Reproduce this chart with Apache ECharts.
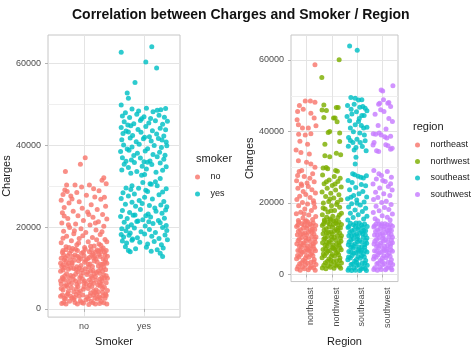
<!DOCTYPE html>
<html>
<head>
<meta charset="utf-8">
<title>Charges by smoker / region</title>
<script src="https://cdn.jsdelivr.net/npm/echarts@6/dist/echarts.min.js"></script>
<style>
  html, body { margin: 0; background: #fff; }
  #chart { width: 476px; height: 352px; }
</style>
</head>
<body>
<div id="chart"></div>
<script>
// --- categories & ticks ---
const smokerCats = ['no', 'yes'];
const regionCats = ['northeast', 'northwest', 'southeast', 'southwest'];
const chargeTicks = [0, 20000, 40000, 60000];
const chargeMinorTicks = [10000, 30000, 50000];

// --- points: [jitter in % of a category step, charges in thousands] ---
const smokerNo = [
  [2,37.0],[-6,35.4],[-31,33.6],[33,32.1],[30,31.5],[-29,30.3],[-15,30.3],[9,30.3],[37,30.6],
  [-32,29.1],[-28,28.7],[-12,28.5],[25,28.9],[-35,28.0],[-22,27.6],[4,27.8],[18,27.4],[-38,26.6],[-8,26.2],[28,26.8],
  [-25,25.9],[12,25.5],[36,25.1],[-33,24.8],[-3,24.6],[22,24.3],[-18,23.9],[-36,23.5],[6,23.7],[31,23.1],
  [-10,22.8],[15,22.4],[-27,22.1],[38,22.0],[-1,21.6],[24,21.3],[-37,21.0],[-14,20.8],[10,20.5],[33,20.2],
  [-24,19.9],[-5,19.6],[20,19.3],[-34,19.0],[3,18.7],[-17,18.4],[27,18.2],[-29,17.8],[14,17.5],[-8,17.2],
  [35,17.0],[-21,16.7],[7,16.4],[-38,16.2],[25,15.9],[-12,15.7],[17,15.4],[-30,15.2],[1,15.0],[32,14.9],[-19,14.8],
  [-26,20.6],[19,21.0],[-16,19.1],[30,18.9],[-2,17.9],[-35,17.3],[21,16.9],[-9,16.1],[38,16.4],[11,15.3],
  [-25,15.0],[28,15.6],[-33,22.7],[8,23.1],[-20,26.9],[34,27.3],[16,29.4],[-4,29.8],
  [-37,1.3],[-24,1.9],[-11,1.2],[3,2.2],[15,1.5],[29,1.8],[38,1.2],[-31,2.4],[8,1.1],[22,2.4],[-4,1.6],
  [-39,3.1],[-27,3.7],[-16,2.8],[-2,3.4],[11,3.9],[25,3.0],[36,3.6],[-33,2.6],[18,2.7],[-9,4.0],[31,4.1],
  [-35,4.6],[-21,5.2],[-6,4.4],[7,5.0],[20,4.7],[34,5.3],[-28,5.5],[13,5.5],[-13,4.9],[39,4.5],[27,5.6],
  [-38,6.1],[-25,6.6],[-12,6.0],[1,6.8],[16,6.3],[30,6.9],[-32,7.0],[9,7.1],[23,5.9],[-18,7.2],[37,6.4],
  [-36,7.7],[-22,8.2],[-7,7.6],[5,8.4],[19,7.9],[33,8.3],[-29,8.6],[12,8.0],[-14,8.5],[26,8.7],[39,7.5],
  [-39,9.2],[-26,9.7],[-10,9.1],[2,9.8],[15,9.4],[28,9.9],[-33,10.1],[8,10.2],[21,8.9],[-17,9.9],[36,9.6],
  [-35,10.8],[-20,11.3],[-5,10.6],[10,11.0],[24,10.5],[35,11.4],[-30,11.6],[17,11.7],[-12,10.3],[3,11.9],[31,10.9],
  [-38,12.4],[-23,12.0],[-8,12.6],[6,12.3],[18,12.8],[32,12.2],[-27,13.0],[13,13.1],[-15,13.2],[25,13.3],[39,12.9],
  [-36,13.8],[-21,14.2],[-4,13.6],[9,14.0],[22,14.4],[34,13.9],[-30,14.5],[-11,14.3],[2,14.6],[29,14.6],[15,13.5],
  [-34,1.6],[-17,2.3],[-1,1.4],[12,1.9],[26,1.3],[35,2.6],[-29,3.3],[-13,3.5],[5,2.9],[16,3.4],[32,3.2],
  [-38,5.0],[-17,4.2],[0,5.4],[24,4.2],[31,5.0],[-35,7.4],[-8,6.5],[12,6.6],[27,7.3],[-21,6.2],
  [-32,8.1],[-2,8.8],[17,8.6],[30,7.7],[-18,8.0],[-37,10.4],[-22,10.0],[-4,9.5],[11,9.2],[33,10.3],
  [-26,11.1],[-9,11.8],[7,10.9],[20,12.2],[38,11.2],[-34,13.2],[-19,12.8],[0,13.0],[16,12.5],[28,14.0],
  [-30,1.2],[-6,2.0],[19,1.2],[33,1.5],[-20,2.7],[7,2.5],[27,2.7],[-36,3.4],[-8,3.1],[21,3.6],[37,3.3],
  [-26,4.3],[-1,4.8],[16,4.4],[-32,5.6],[-10,5.5],[9,5.8],[29,6.0],[-39,6.9],[-14,6.8],[4,6.1],[20,7.0],[34,7.5],
  [-25,7.6],[-3,7.4],[14,7.6],[37,8.1],[-35,9.5],[-13,9.6],[6,9.0],[24,9.3],[-28,10.6],[-8,10.0],[14,10.4],[28,10.9],
  [-39,11.2],[-16,11.9],[1,11.4],[22,11.5],[36,12.0],[-31,12.5],[-11,12.9],[9,12.6],[27,12.8],[-24,13.6],[-1,13.9],
  [19,13.9],[37,14.3],[-35,14.3],[-14,14.6],[12,14.5],[24,14.1],[-22,3.1],[-29,5.9],[26,6.4],[-5,8.1],[31,9.3],
  [-20,10.9],[35,13.2],[-5,12.3],[18,4.0],[-15,1.6],[10,3.2],[-33,12.0],[0,6.4]
];
const smokerYes = [
  [-38,62.8],[13,64.1],[3,60.4],[21,58.9],[-15,55.4],[-28,52.8],[-26,51.5],[-38,49.9],
  [-20,48.9],[-9,48.4],[4,49.1],[15,48.2],[28,48.7],[36,49.0],[-31,48.0],[22,48.6],
  [-36,47.2],[-24,46.8],[-12,47.6],[0,47.0],[11,46.6],[25,47.4],[34,46.9],[-4,46.5],
  [-33,45.8],[-17,45.3],[-6,46.1],[8,45.5],[19,46.0],[31,45.2],[39,45.9],[-27,45.0],
  [-38,44.4],[-22,44.8],[-10,43.9],[3,44.6],[14,43.6],[27,44.2],[36,43.8],[-30,43.5],
  [-35,42.9],[-19,42.4],[-5,43.2],[9,42.1],[21,42.8],[33,42.3],[-26,43.3],[1,42.0],
  [-37,41.4],[-23,41.8],[-13,40.9],[-1,41.6],[12,41.1],[24,41.7],[37,40.8],[30,41.3],
  [-34,40.1],[-20,39.6],[-8,40.3],[6,39.2],[17,40.0],[29,39.5],[38,39.9],[-28,39.1],
  [-39,38.5],[-25,38.8],[-11,38.1],[2,38.6],[15,37.8],[26,38.3],[35,37.6],[-17,37.5],
  [-36,37.0],[-21,36.4],[-6,36.9],[10,36.2],[22,37.2],[33,36.6],[-30,36.1],[0,36.0],
  [-33,35.4],[-16,35.8],[-3,34.9],[13,35.3],[27,35.7],[37,34.8],[-26,34.6],[6,35.9],
  [-37,34.0],[-12,33.6],[4,34.2],[20,33.4],[31,33.9],[-22,33.2],
  [-4,32.7],[1,32.9],[10,30.6],[19,31.1],[-20,30.1],[27,31.9],
  [-2,30.9],[12,30.5],[22,30.1],[-30,29.6],[-22,29.2],[37,29.4],[3,29.0],[-9,29.5],
  [-35,28.4],[-16,28.1],[6,28.7],[25,27.9],[31,28.6],[-26,27.6],
  [-38,27.0],[-8,26.5],[14,26.9],[33,26.3],[-20,26.1],[1,27.3],
  [-31,25.6],[-14,25.1],[-3,25.8],[18,24.7],[28,25.4],[38,25.0],[9,25.3],
  [-36,24.1],[-24,23.6],[-6,24.3],[7,23.2],[20,23.9],[30,23.4],[-15,23.0],[36,24.2],
  [-39,22.6],[-28,22.1],[-18,22.9],[-2,21.8],[11,22.5],[24,21.6],[34,22.2],[-10,21.5],[3,22.8],
  [-33,21.2],[-21,20.6],[-12,21.4],[2,20.3],[15,20.9],[27,21.1],[37,20.4],[-27,20.1],[8,21.3],
  [-37,19.6],[-30,19.1],[-16,19.8],[-5,18.9],[9,19.4],[19,18.7],[31,19.9],[38,19.2],[-23,18.6],
  [-38,18.2],[-34,17.6],[-25,18.0],[-11,17.4],[1,18.3],[13,17.8],[25,17.2],[35,18.1],[-19,17.1],
  [-36,16.6],[-29,16.1],[-20,16.8],[-7,16.3],[6,15.9],[17,16.5],[29,15.7],[39,16.9],
  [-31,15.2],[-14,14.7],[4,15.1],[22,14.5],[32,14.9],[-26,14.3],[-23,14.0],
  [27,13.6],[31,12.8],[12,14.1]
];
const regionNE = [
  [34,58.7],[-4,48.5],[16,48.5],[34,48.2],[-27,47.3],[-12,46.2],[-34,45.6],[18,45.1],[31,43.8],[-36,43.3],
  [-31,41.9],[-15,41.0],[8,41.0],[38,41.6],[-30,39.2],[-4,39.0],[18,39.4],[-25,37.3],[5,36.4],[-40,34.8],
  [-21,34.1],[12,33.7],[-31,31.8],[1,31.4],[18,30.9],[-18,29.1],[34,30.0],[-34,27.7],[3,25.6],
  [-28,28.8],[25,28.2],[-8,27.4],[14,26.9],[-38,26.2],[31,25.9],[-20,25.3],[8,24.6],[-33,24.1],[22,23.7],
  [-12,23.2],[36,22.8],[-2,22.4],[-26,21.9],[15,21.5],[-37,21.0],[28,20.6],[-15,20.1],[5,19.7],[-30,19.2],
  [33,18.8],[-6,18.3],[20,17.9],[-22,17.4],[-39,17.0],[10,16.6],[37,16.2],[-13,15.8],[25,15.4],[-31,15.1],
  [0,15.0],[-18,24.9],[30,19.9],[-9,17.0],
  [-36,1.5],[-15,2.1],[8,1.3],[29,1.9],[-26,3.0],[-3,2.7],[18,3.4],[38,2.8],[-38,4.4],[-12,4.0],
  [10,4.8],[31,4.2],[-22,5.6],[1,5.3],[22,6.0],[-33,6.7],[-8,6.4],[14,7.1],[36,6.6],[-19,7.6],
  [4,8.0],[27,7.9],[-37,8.6],[-10,8.9],[16,9.3],[35,9.0],[-27,9.9],[-2,10.2],[21,10.6],[-35,11.1],
  [-14,11.4],[9,11.8],[30,11.3],[-23,12.5],[2,12.9],[24,12.6],[-38,13.4],[-9,13.8],[15,14.1],[37,13.7],
  [-29,14.6],[6,14.7],[-24,1.2],[20,2.3],[-5,3.7],[-29,4.9],[26,5.2],[-16,6.2],[11,6.7],[-27,7.9],
  [-1,9.4],[28,8.6],[-18,10.3],[38,10.5],[-5,11.6],[16,12.3],[-31,12.1],[-17,14.2],[27,14.4],[0,7.3],
  [-32,2.2],[-7,1.6],[14,1.9],[35,1.2],[-18,3.3],[6,3.1],[30,3.5],[-34,5.3],[-3,4.6],[17,5.6],
  [-25,6.7],[5,6.8],[31,7.1],[-12,8.3],[18,8.1],[-32,9.5],[9,9.9],[33,9.9],[-22,11.2],[1,11.0],
  [22,11.8],[-12,12.9],[33,12.6],[-33,13.8],[5,13.6],[22,13.6],[-5,14.8],[-21,8.7]
];
const regionNW = [
  [29,60.1],[-39,55.1],[-31,47.4],[-38,46.0],[-21,45.9],[18,46.7],[25,46.7],[-31,43.9],[7,43.8],[13,43.8],
  [21,42.7],[-8,40.0],[-14,39.7],[31,39.6],[-27,36.4],[31,37.2],[18,33.9],[-27,33.2],[-8,32.9],[35,33.5],
  [-34,29.8],[-22,29.9],[-16,29.6],[15,29.1],[22,28.9],[-21,25.9],
  [-36,27.8],[10,27.4],[33,26.9],[-10,26.4],[24,26.0],[-30,25.4],[2,24.9],[37,24.5],[-18,24.1],[15,23.6],
  [-38,23.1],[-4,22.7],[28,22.3],[-24,21.8],[8,21.4],[36,20.9],[-12,20.4],[-33,20.0],[19,19.6],[-1,19.2],
  [31,18.8],[-26,18.3],[11,17.9],[-15,17.5],[38,17.1],[-37,16.7],[4,16.3],[24,15.9],[-8,15.5],[-29,15.2],
  [16,15.0],[-20,16.0],[30,16.6],[-3,17.8],[-34,18.6],[22,20.2],[-7,21.1],[13,25.3],
  [-37,1.8],[-14,2.4],[9,1.7],[30,2.2],[-25,3.3],[-2,3.0],[19,3.8],[38,3.2],[-38,4.7],[-11,4.3],
  [11,5.1],[32,4.6],[-21,5.9],[2,5.6],[23,6.3],[-34,7.0],[-7,6.7],[15,7.4],[37,6.9],[-18,7.9],
  [5,8.3],[28,8.2],[-36,8.9],[-9,9.2],[17,9.6],[36,9.3],[-26,10.2],[-1,10.5],[22,10.9],[-34,11.4],
  [-13,11.7],[10,12.1],[31,11.6],[-22,12.8],[3,13.2],[25,12.9],[-37,13.7],[-8,14.1],[16,14.4],[38,14.0],
  [-28,14.8],[7,15.0],[-23,1.6],[21,2.7],[-4,4.0],[-28,5.2],[27,5.5],[-15,6.5],[12,7.0],[-26,8.2],
  [0,9.7],[29,8.9],[-17,10.6],[38,10.8],[-4,11.9],[17,12.6],[-30,12.4],[-16,14.5],[28,14.7],[1,7.6],
  [-31,2.6],[-6,2.0],[15,2.5],[35,1.7],[-17,3.7],[7,3.6],[31,3.9],[-33,5.7],[-2,5.1],[18,6.0],
  [-24,7.1],[6,7.3],[32,7.5],[-11,8.7],[19,8.5],[-31,9.9],[10,10.3],[34,10.2],[-21,11.6],[2,11.3],
  [23,12.2],[-11,13.3],[34,13.0],[-32,14.2],[6,14.0],[23,14.0],[-4,15.2],[-20,9.1]
];
const regionSE = [
  [-30,63.9],[0,62.7],[-25,49.5],[-8,49.3],[5,48.8],[18,48.9],[-38,47.3],[-12,47.6],[22,47.0],[31,46.5],
  [38,45.8],[-40,44.2],[-21,44.9],[18,44.5],[27,44.5],[5,42.8],[-8,41.9],[16,41.7],[-27,41.0],[25,41.0],
  [38,41.2],[-34,38.3],[-27,37.5],[-17,36.9],[-1,37.8],[12,36.9],[31,37.4],[-12,34.8],[35,34.6],[-5,32.8],
  [-8,30.9],[-18,28.2],[-10,27.9],[3,27.5],[14,27.2],[24,27.0],[36,27.6],[8,43.6],[-3,45.5],[-30,43.0],
  [10,39.6],[-15,39.9],[28,39.0],[-5,35.5],[20,35.8],[-24,46.2],[10,46.8],[-35,35.9],
  [-36,26.3],[-20,25.7],[16,25.2],[33,24.8],[-6,24.3],[-30,23.7],[22,23.2],[7,22.6],[-14,22.1],[37,21.7],
  [-38,21.2],[-2,20.8],[27,20.3],[-22,19.8],[12,19.4],[-34,18.9],[33,18.5],[-9,18.0],[20,17.6],[-27,17.1],
  [4,16.7],[38,16.3],[-16,15.9],[25,15.5],[-37,15.2],[-1,19.9],[-25,21.6],
  [-36,1.2],[-13,1.8],[10,1.1],[31,1.6],[-24,2.8],[-1,2.5],[20,3.2],[39,2.6],[-37,4.1],[-10,3.7],
  [12,4.5],[33,3.9],[-20,5.3],[3,5.0],[24,5.7],[-33,6.4],[-6,6.1],[16,6.8],[38,6.3],[-17,7.3],
  [6,7.7],[29,7.6],[-35,8.3],[-8,8.6],[18,9.0],[37,8.7],[-25,9.6],[0,9.9],[23,10.3],[-33,10.8],
  [-12,11.1],[11,11.5],[32,11.0],[-21,12.2],[4,12.6],[26,12.3],[-36,13.1],[-7,13.5],[17,13.8],[39,13.4],
  [-27,14.3],[8,14.4],[-22,1.1],[22,2.0],[-3,3.4],[-27,4.6],[28,4.9],[-14,5.9],[13,6.4],[-25,7.6],
  [1,9.1],[30,8.3],[-16,10.0],[38,10.2],[-3,11.3],[18,12.0],[-29,11.8],[-15,13.9],[29,14.1],[2,7.0],
  [-32,1.7],[-7,1.2],[15,1.5],[36,1.1],[-18,2.9],[6,2.7],[30,3.1],[-34,4.9],[-3,4.2],[17,5.2],
  [-25,6.3],[5,6.4],[31,6.7],[-12,7.9],[18,7.7],[-32,9.1],[9,9.5],[33,9.5],[-22,10.8],[1,10.6],
  [22,11.4],[-12,12.5],[33,12.2],[-33,13.4],[5,13.2],[22,13.2],[-5,14.4],[-21,8.3]
];
const regionSW = [
  [40,52.8],[0,51.3],[-6,51.6],[3,48.9],[20,47.9],[24,48.1],[-16,47.6],[-12,47.9],[31,47.0],[-8,46.1],
  [5,45.6],[-18,41.7],[38,42.8],[-37,39.4],[-28,39.2],[-14,39.6],[-6,39.0],[8,38.5],[16,38.2],[31,38.7],
  [-34,36.9],[-24,34.6],[-16,34.4],[12,36.3],[21,36.0],[31,35.0],[37,35.3],[-15,28.2],[0,26.3],[31,25.4],
  [-38,36.2],[24,43.6],[-30,44.8],[13,40.7],
  [-35,29.1],[18,28.8],[-5,27.7],[34,27.2],[-25,26.7],[10,26.0],[-38,25.3],[22,24.6],[-12,24.2],[37,23.6],
  [-28,23.0],[4,22.6],[28,22.1],[-19,21.5],[-36,21.0],[14,20.5],[-4,20.1],[33,19.6],[-26,19.1],[7,18.7],
  [24,18.2],[-14,17.8],[-37,17.3],[38,16.9],[-2,16.4],[18,16.0],[-30,15.6],[29,15.2],[-20,15.0],
  [-35,1.4],[-12,2.0],[11,1.3],[32,1.8],[-23,3.0],[0,2.7],[21,3.4],[39,2.8],[-36,4.3],[-9,3.9],
  [13,4.7],[34,4.1],[-19,5.5],[4,5.2],[25,5.9],[-32,6.6],[-5,6.3],[17,7.0],[38,6.5],[-16,7.5],
  [7,7.9],[30,7.8],[-34,8.5],[-7,8.8],[19,9.2],[38,8.9],[-24,9.8],[1,10.1],[24,10.5],[-32,11.0],
  [-11,11.3],[12,11.7],[33,11.2],[-20,12.4],[5,12.8],[27,12.5],[-35,13.3],[-6,13.7],[18,13.9],[38,13.5],
  [-26,14.1],[9,14.2],[-21,1.2],[23,2.2],[-2,3.6],[-26,4.8],[29,5.1],[-13,6.1],[14,6.6],[-24,7.8],
  [2,9.3],[31,8.5],[-15,10.2],[38,10.4],[-2,11.5],[19,12.2],[-28,12.0],[-14,14.0],[30,14.0],[3,7.2],
  [-31,1.9],[-6,1.4],[16,1.7],[36,1.3],[-17,3.2],[7,3.0],[31,3.3],[-33,5.1],[-2,4.5],[18,5.4],
  [-24,6.5],[6,6.7],[32,6.9],[-11,8.1],[19,8.0],[-31,9.3],[10,9.7],[34,9.6],[-21,11.0],[2,10.8],
  [23,11.6],[-11,12.7],[34,12.3],[-32,13.6],[6,13.4],[23,13.2],[-4,14.2],[-20,8.5]
];

const FONT = '"Liberation Sans", Arial, sans-serif';
const smokerColors = ['#F8766D', '#00BFC4'];
const regionColors = ['#F8766D', '#7CAE00', '#00BFC4', '#C77CFF'];
const CHARGE_MIN = -2000, CHARGE_MAX = 67000;

// category k sits at x = k+1 on a hidden value scale, jitter spreads around it
function toPoints(list, catIndex) {
    return list.map(p => [catIndex + 1 + p[0] / 100, p[1] * 1000]);
}

function catAxis(gridIndex, cats, name, nameGap, rotate) {
    const positions = cats.map((c, i) => i + 1);
    return {
        type: 'value', gridIndex, min: 0.4, max: cats.length + 0.6,
        name, nameLocation: 'middle', nameGap,
        nameTextStyle: { fontFamily: FONT, fontSize: 11, color: '#1a1a1a' },
        axisLine: { show: false },
        axisTick: { show: true, length: 3, customValues: positions, lineStyle: { color: '#b3b3b3' } },
        axisLabel: {
            customValues: positions, margin: rotate ? 6 : 5, rotate: rotate || 0,
            verticalAlign: rotate ? 'top' : undefined,
            fontFamily: FONT, fontSize: 9, color: '#4d4d4d',
            formatter: v => cats[Math.round(v) - 1]
        },
        splitLine: { show: true, lineStyle: { color: '#e4e4e4', width: 1 } }
    };
}

function chargeAxis(gridIndex, minor) {
    const base = { type: 'value', gridIndex, min: CHARGE_MIN, max: CHARGE_MAX, axisLine: { show: false } };
    if (minor) {
        return Object.assign(base, {
            axisTick: { show: false, customValues: chargeMinorTicks },
            axisLabel: { show: false, customValues: chargeMinorTicks },
            splitLine: { show: true, lineStyle: { color: '#efefef', width: 1 } }
        });
    }
    return Object.assign(base, {
        name: 'Charges', nameLocation: 'middle', nameGap: 33,
        nameTextStyle: { fontFamily: FONT, fontSize: 11, color: '#1a1a1a' },
        axisTick: { show: true, length: 3, customValues: chargeTicks, lineStyle: { color: '#b3b3b3' } },
        axisLabel: { customValues: chargeTicks, margin: 7, fontFamily: FONT, fontSize: 9, color: '#4d4d4d',
                     formatter: v => String(v) },
        splitLine: { show: true, lineStyle: { color: '#e4e4e4', width: 1 } }
    });
}

function scatter(name, data, color, xAxisIndex, yAxisIndex) {
    return {
        name, type: 'scatter', xAxisIndex, yAxisIndex, data,
        symbolSize: 5, silent: true, clip: false,
        itemStyle: { color, opacity: 0.82 }
    };
}

const chart = echarts.init(document.getElementById('chart'), null, { renderer: 'canvas' });

const legendText = { fontFamily: FONT, fontSize: 9, color: '#1a1a1a', lineHeight: 12 };
const panelGrid = { show: true, borderColor: '#c6c6c6', borderWidth: 1, backgroundColor: '#fff' };

chart.setOption({
    animation: false,
    backgroundColor: '#fff',
    title: [
        { text: 'Correlation between Charges and Smoker / Region', left: 72, top: 8, padding: 0,
          textStyle: { fontFamily: FONT, fontSize: 14, fontWeight: 'bold', color: '#111' } },
        { text: 'smoker', left: 196, top: 153, padding: 0,
          textStyle: { fontFamily: FONT, fontSize: 11, fontWeight: 'normal', color: '#1a1a1a' } },
        { text: 'region', left: 413, top: 121, padding: 0,
          textStyle: { fontFamily: FONT, fontSize: 11, fontWeight: 'normal', color: '#1a1a1a' } }
    ],
    legend: [
        { data: smokerCats, orient: 'vertical', left: 195, top: 171, padding: 0,
          itemWidth: 16, itemHeight: 5, itemGap: 5, icon: 'circle', selectedMode: false, textStyle: legendText },
        { data: regionCats, orient: 'vertical', left: 415, top: 139, padding: 0,
          itemWidth: 16, itemHeight: 5, itemGap: 4.5, icon: 'circle', selectedMode: false, textStyle: legendText }
    ],
    grid: [
        Object.assign({ left: 48, right: 296, top: 35, bottom: 34 }, panelGrid),
        Object.assign({ left: 291, right: 78, top: 35, bottom: 65 }, panelGrid)
    ],
    xAxis: [
        catAxis(0, smokerCats, 'Smoker', 18, 0),
        catAxis(1, regionCats, 'Region', 49, 90)
    ],
    yAxis: [
        chargeAxis(0, false), chargeAxis(0, true),
        chargeAxis(1, false), chargeAxis(1, true)
    ],
    series: [
        scatter('no', toPoints(smokerNo, 0), smokerColors[0], 0, 0),
        scatter('yes', toPoints(smokerYes, 1), smokerColors[1], 0, 0),
        scatter('northeast', toPoints(regionNE, 0), regionColors[0], 1, 2),
        scatter('northwest', toPoints(regionNW, 1), regionColors[1], 1, 2),
        scatter('southeast', toPoints(regionSE, 2), regionColors[2], 1, 2),
        scatter('southwest', toPoints(regionSW, 3), regionColors[3], 1, 2)
    ]
});
</script>
</body>
</html>
